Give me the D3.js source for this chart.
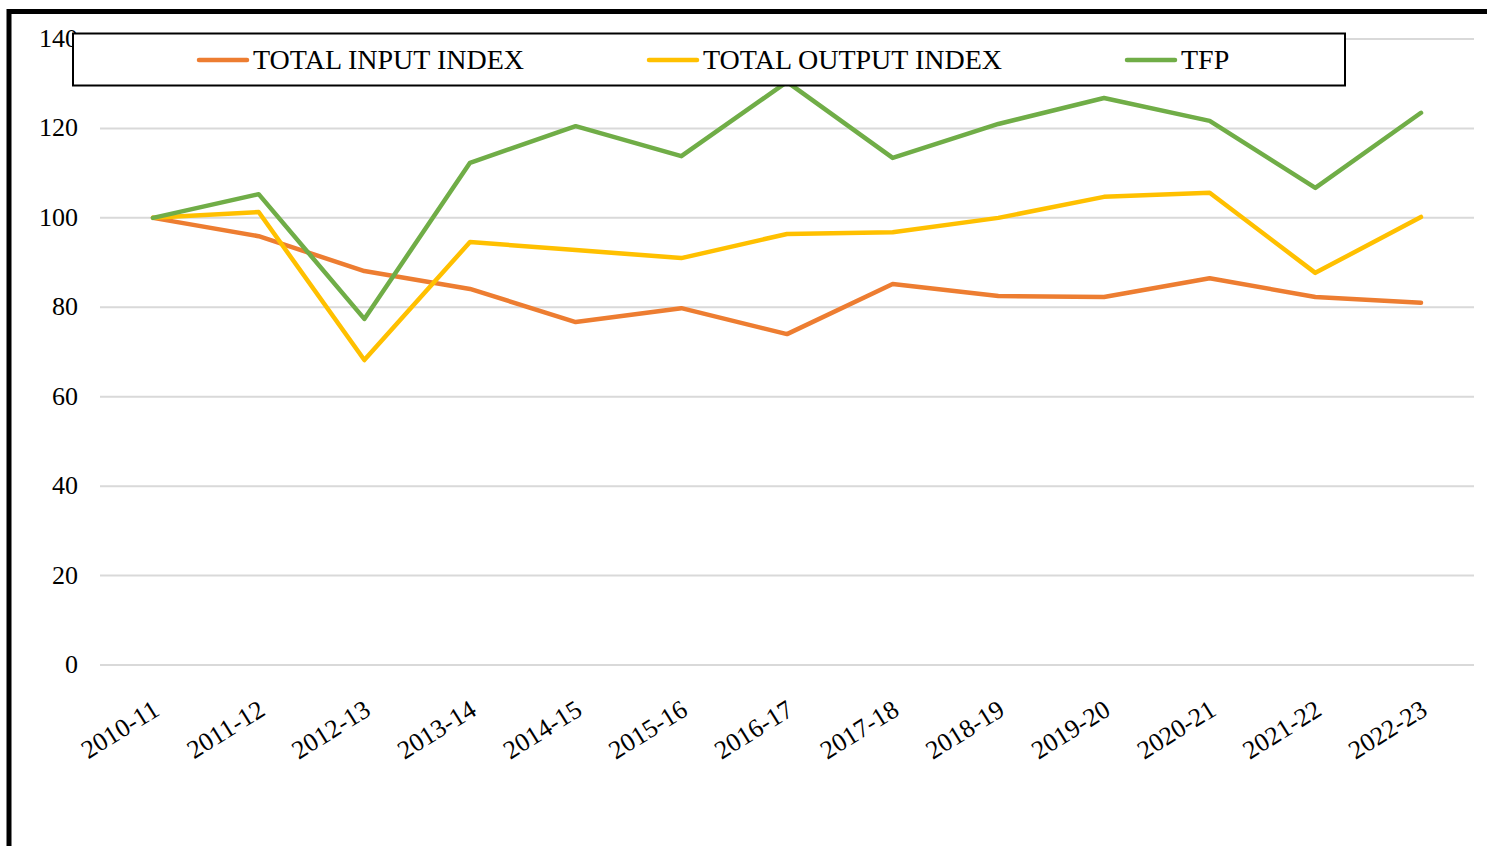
<!DOCTYPE html>
<html>
<head>
<meta charset="utf-8">
<script src="https://cdn.jsdelivr.net/npm/d3@7"></script>
<style>
body { margin: 0; background: #fff; }
svg { display: block; font-family: "Liberation Serif", "Times New Roman", serif; }
</style>
</head>
<body>
<svg id="viz"></svg>
<script>
// the data
var years = ["2010-11", "2011-12", "2012-13", "2013-14", "2014-15", "2015-16", "2016-17",
	"2017-18", "2018-19", "2019-20", "2020-21", "2021-22", "2022-23"];
var inputIndex = [100, 95.9, 88.1, 84.1, 76.7, 79.8, 74.0, 85.2, 82.5, 82.3, 86.5, 82.3, 81.0];
var outputIndex = [100, 101.3, 68.2, 94.6, 92.8, 91.0, 96.4, 96.8, 100.0, 104.7, 105.6, 87.7, 100.2];
var tfp = [100, 105.3, 77.4, 112.3, 120.5, 113.8, 130.4, 113.4, 121.0, 126.8, 121.7, 106.7, 123.5];
var yTicks = [0, 20, 40, 60, 80, 100, 120, 140];

var series = [
	{name: "TOTAL INPUT INDEX", values: inputIndex, color: "#ED7D31"},
	{name: "TOTAL OUTPUT INDEX", values: outputIndex, color: "#FFC000"},
	{name: "TFP", values: tfp, color: "#70AD47"}
];

// set up the svg
var w = 1487, h = 846;
var svg = d3.select("#viz").attr("width", w).attr("height", h);

// outer frame (only left and top visible)
svg.append("rect")
	.attr("x", 9).attr("y", 11.5)
	.attr("width", 1500).attr("height", 900)
	.attr("fill", "none").attr("stroke", "#000").attr("stroke-width", 5);

var x = d3.scalePoint().domain(years).range([153, 1421]);
var y = d3.scaleLinear().domain([0, 140]).range([665, 39]);

// gridlines
svg.append("g").selectAll("line")
	.data(yTicks)
	.enter().append("line")
	.attr("x1", 100).attr("x2", 1474)
	.attr("y1", function(d) { return y(d); })
	.attr("y2", function(d) { return y(d); })
	.attr("stroke", "#d9d9d9").attr("stroke-width", 2);

// y labels
svg.append("g").selectAll("text")
	.data(yTicks)
	.enter().append("text")
	.attr("x", 78)
	.attr("y", function(d) { return y(d) + 8; })
	.attr("text-anchor", "end")
	.attr("font-size", 26)
	.text(function(d) { return d; });

// x labels
svg.append("g").selectAll("text")
	.data(years)
	.enter().append("text")
	.attr("text-anchor", "end")
	.attr("font-size", 26)
	.attr("transform", function(d) { return "translate(" + (x(d) + 8) + ",714) rotate(-32)"; })
	.text(function(d) { return d; });

// lines
var line = d3.line()
	.x(function(d, i) { return x(years[i]); })
	.y(function(d) { return y(d); });

svg.append("g").selectAll("path")
	.data(series)
	.enter().append("path")
	.attr("d", function(d) { return line(d.values); })
	.attr("fill", "none")
	.attr("stroke", function(d) { return d.color; })
	.attr("stroke-width", 4.5)
	.attr("stroke-linejoin", "round")
	.attr("stroke-linecap", "round");

// legend
svg.append("rect")
	.attr("x", 73).attr("y", 33.5)
	.attr("width", 1272).attr("height", 52)
	.attr("fill", "#fff").attr("stroke", "#000").attr("stroke-width", 2);

var legendX = [199, 649, 1127];
var lg = svg.append("g").selectAll("g")
	.data(series)
	.enter().append("g")
	.attr("transform", function(d, i) { return "translate(" + legendX[i] + ",60)"; });
lg.append("line")
	.attr("x1", 0).attr("x2", 48)
	.attr("stroke", function(d) { return d.color; })
	.attr("stroke-width", 4.5)
	.attr("stroke-linecap", "round");
lg.append("text")
	.attr("x", 54).attr("y", 9)
	.attr("font-size", 28)
	.text(function(d) { return d.name; });
</script>
</body>
</html>
